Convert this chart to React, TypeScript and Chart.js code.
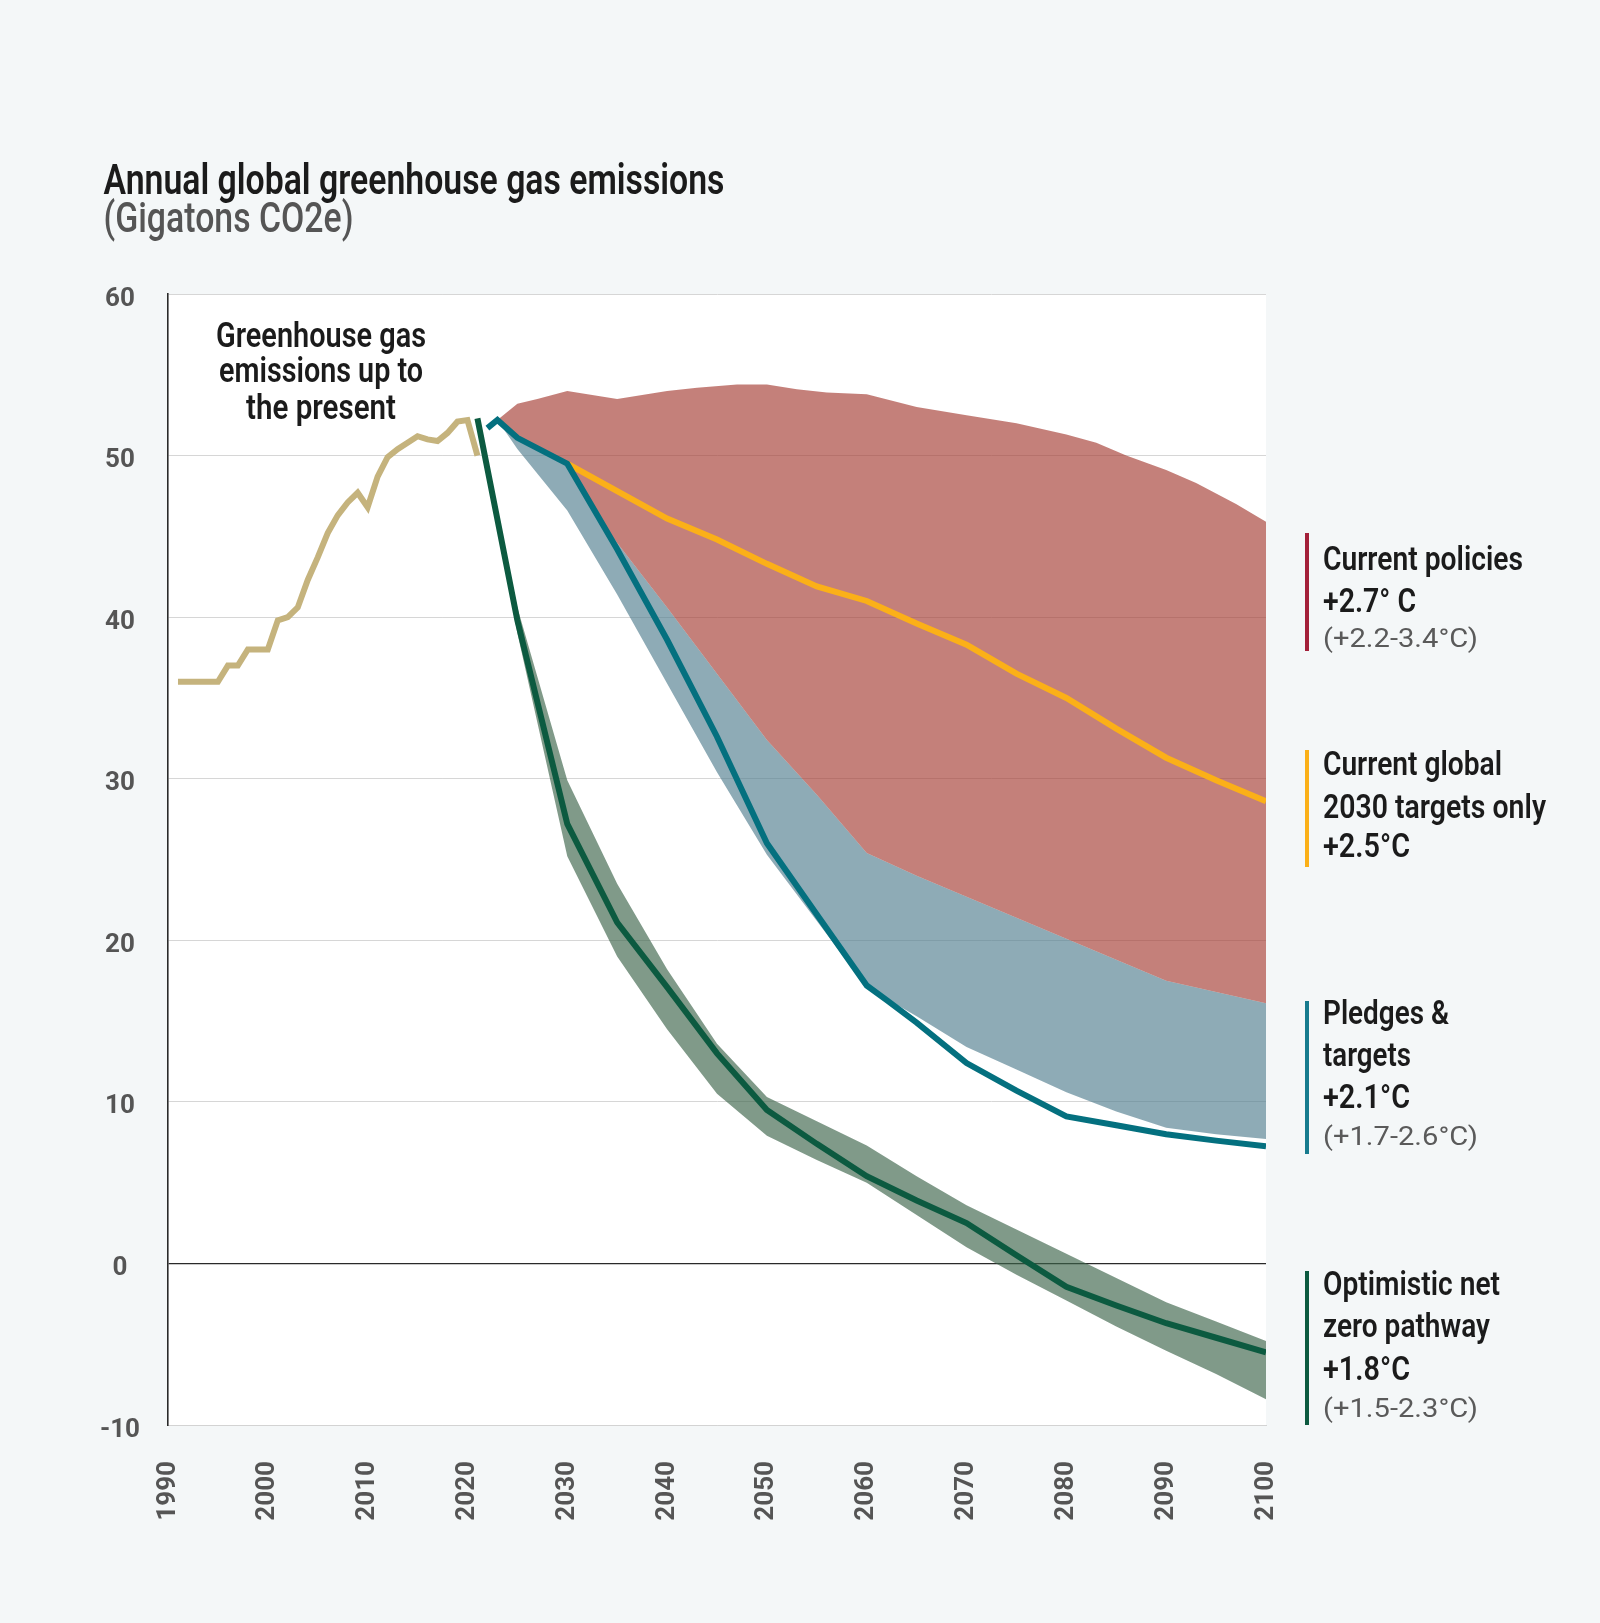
import React, { useEffect, useRef } from "react";
import { Chart, registerables } from "chart.js";

Chart.register(...registerables);

// ---------------- DATA ----------------
const historyYears = [1991, 1992, 1993, 1994, 1995, 1996, 1997, 1998, 1999, 2000, 2001, 2002, 2003, 2004, 2005, 2006, 2007, 2008, 2009, 2010, 2011, 2012, 2013, 2014, 2015, 2016, 2017, 2018, 2019, 2020, 2021];
const historyValues = [36, 36, 36, 36, 36, 37, 37, 38, 38, 38, 39.8, 40.0, 40.6, 42.3, 43.7, 45.2, 46.3, 47.1, 47.7, 46.8, 48.7, 49.9, 50.4, 50.8, 51.2, 51.0, 50.9, 51.4, 52.1, 52.2, 50.0];

const netZeroYears = [2021, 2025, 2030, 2035, 2040, 2045, 2050, 2055, 2060, 2065, 2070, 2075, 2080, 2085, 2090, 2095, 2100];
const netZeroValues = [52.3, 39.8, 27.2, 21.1, 17.1, 13.0, 9.5, 7.4, 5.4, 3.9, 2.5, 0.5, -1.45, -2.6, -3.7, -4.6, -5.5];
const netZeroHigh = [52.3, 40.6, 29.9, 23.5, 18.2, 13.6, 10.3, 8.8, 7.3, 5.4, 3.6, 2.1, 0.6, -0.9, -2.4, -3.6, -4.8];
const netZeroLow = [52.3, 39.0, 25.2, 19.0, 14.5, 10.5, 7.9, 6.4, 5.0, 3.0, 1.0, -0.7, -2.3, -3.9, -5.4, -6.85, -8.4];

const pledgesYears = [2022, 2023, 2025, 2030, 2035, 2040, 2045, 2050, 2055, 2060, 2062, 2065, 2070, 2075, 2080, 2085, 2090, 2095, 2100];
const pledgesValues = [51.7, 52.2, 51.1, 49.5, 44.2, 38.6, 32.6, 26.0, 21.6, 17.2, 16.3, 14.9, 12.4, 10.7, 9.1, 8.55, 8.0, 7.6, 7.25];

const pledgesLowYears = [2023, 2025, 2030, 2035, 2040, 2045, 2050, 2055, 2060, 2065, 2070, 2075, 2080, 2085, 2090, 2095, 2100];
const pledgesLowValues = [52.2, 50.4, 46.6, 41.4, 35.9, 30.4, 25.3, 21.2, 17.1, 15.3, 13.4, 12.0, 10.6, 9.4, 8.4, 8.0, 7.7];

const policiesLowYears = [2023, 2025, 2030, 2034, 2040, 2045, 2050, 2055, 2060, 2065, 2070, 2075, 2080, 2085, 2090, 2095, 2100];
const policiesLowValues = [52.2, 51.1, 49.5, 45.4, 40.6, 36.5, 32.4, 29.0, 25.4, 24.0, 22.7, 21.4, 20.1, 18.8, 17.5, 16.8, 16.1];

const policiesHighYears = [2023, 2025, 2027, 2030, 2035, 2040, 2043, 2047, 2050, 2053, 2056, 2060, 2065, 2070, 2075, 2080, 2083, 2086, 2090, 2093, 2097, 2100];
const policiesHighValues = [52.2, 53.2, 53.5, 54.0, 53.5, 54.0, 54.2, 54.4, 54.4, 54.1, 53.9, 53.8, 53.0, 52.5, 52.0, 51.3, 50.8, 50.0, 49.1, 48.3, 47.0, 45.9];

const targetsYears = [2030, 2035, 2040, 2045, 2050, 2055, 2060, 2065, 2070, 2075, 2080, 2085, 2090, 2095, 2100];
const targetsValues = [49.5, 47.8, 46.1, 44.8, 43.3, 41.9, 41.0, 39.6, 38.3, 36.5, 35.0, 33.1, 31.3, 29.9, 28.6];

const yMin = -10;
const yMax = 60;
const yStep = 10;
const xMin = 1990;
const xMax = 2100;
const xStep = 10;

const titleText = "Annual global greenhouse gas emissions";
const subtitleText = "(Gigatons CO2e)";
const noteLines = ["Greenhouse gas", "emissions up to", "the present"];

// ---------------- STYLE / LAYOUT ----------------
const W = 1600;
const H = 1623;
const PLOT = { left: 168, top: 294, right: 1266, bottom: 1425 };
const FONT = "Roboto, 'Noto Sans', sans-serif";

const C = {
  page: "#f4f7f8",
  red: "rgba(164,60,50,0.65)",
  blue: "rgba(81,126,143,0.65)",
  greenBand: "rgba(60,100,74,0.65)",
  teal: "#04707f",
  yellow: "#fbb018",
  green: "#0c5a40",
  tan: "#c5b37d",
};

const legendGroups = [
  {
    color: "#a3203a", top: 533, bottom: 651,
    lines: [
      { t: "Current policies", y: 570, w: 200, sub: false },
      { t: "+2.7° C", y: 612, w: 93, sub: false },
      { t: "(+2.2-3.4°C)", y: 647, w: 155, sub: true },
    ],
  },
  {
    color: "#fbb018", top: 750, bottom: 867,
    lines: [
      { t: "Current global", y: 775, w: 179, sub: false },
      { t: "2030 targets only", y: 818, w: 223, sub: false },
      { t: "+2.5°C", y: 857, w: 87, sub: false },
    ],
  },
  {
    color: "#177b8e", top: 1001, bottom: 1154,
    lines: [
      { t: "Pledges &", y: 1024, w: 126, sub: false },
      { t: "targets", y: 1066, w: 88, sub: false },
      { t: "+2.1°C", y: 1108, w: 87, sub: false },
      { t: "(+1.7-2.6°C)", y: 1145, w: 155, sub: true },
    ],
  },
  {
    color: "#0c5a40", top: 1271, bottom: 1425,
    lines: [
      { t: "Optimistic net", y: 1295, w: 177, sub: false },
      { t: "zero pathway", y: 1337, w: 167, sub: false },
      { t: "+1.8°C", y: 1380, w: 87, sub: false },
      { t: "(+1.5-2.3°C)", y: 1417, w: 155, sub: true },
    ],
  },
];

const pts = (xs: number[], ys: number[]) => xs.map((x, i) => ({ x, y: ys[i] }));

const plotBg = {
  id: "plotBg",
  beforeDraw(chart: any) {
    const { ctx, chartArea } = chart;
    ctx.save();
    ctx.fillStyle = "#ffffff";
    ctx.fillRect(chartArea.left, chartArea.top, chartArea.right - chartArea.left, chartArea.bottom - chartArea.top);
    ctx.restore();
  },
};

export default function App() {
  const ref = useRef<HTMLCanvasElement | null>(null);

  useEffect(() => {
    if (!ref.current) return;
    const line = (data: any, color: string, width = 6) => ({
      data,
      borderColor: color,
      borderWidth: width,
      pointRadius: 0,
      fill: false,
      tension: 0,
    });
    const chart = new Chart(ref.current, {
      type: "line",
      data: {
        datasets: [
          { label: "Pledges & targets", ...line(pts(pledgesYears, pledgesValues), C.teal) },
          { label: "Current 2030 targets", ...line(pts(targetsYears, targetsValues), C.yellow) },
          { label: "Optimistic net zero", ...line(pts(netZeroYears, netZeroValues), C.green) },
          { label: "Historical", ...line(pts(historyYears, historyValues), C.tan) },
          { label: "Net zero high", ...line(pts(netZeroYears, netZeroHigh), "transparent", 0), fill: { target: 5 }, backgroundColor: C.greenBand },
          { label: "Net zero low", ...line(pts(netZeroYears, netZeroLow), "transparent", 0) },
          { label: "Policies high", ...line(pts(policiesHighYears, policiesHighValues), "transparent", 0), fill: { target: 7 }, backgroundColor: C.red },
          { label: "Policies low", ...line(pts(policiesLowYears, policiesLowValues), "transparent", 0), fill: { target: 8 }, backgroundColor: C.blue },
          { label: "Pledges low", ...line(pts(pledgesLowYears, pledgesLowValues), "transparent", 0) },
        ] as any,
      },
      options: {
        animation: false,
        responsive: false,
        events: [],
        layout: { padding: { left: 0, top: PLOT.top, right: W - PLOT.right, bottom: 0 } },
        plugins: { legend: { display: false }, tooltip: { enabled: false } },
        scales: {
          x: {
            type: "linear",
            min: xMin,
            max: xMax,
            afterFit(scale: any) { scale.height = H - PLOT.bottom; },
            grid: { display: false },
            border: { display: true, color: "#d3d3d3", width: 1 },
            ticks: {
              stepSize: xStep,
              autoSkip: false,
              minRotation: 90,
              maxRotation: 90,
              padding: 28,
              color: "#555555",
              font: { family: FONT, size: 26, weight: "bold" },
              callback: (v: any) => String(v),
            },
          },
          y: {
            type: "linear",
            min: yMin,
            max: yMax,
            afterFit(scale: any) { scale.width = PLOT.left; },
            grid: {
              drawTicks: false,
              color: (c: any) => (c.tick && c.tick.value === 0 ? "#2a2a2a" : "#d6d6d6"),
              lineWidth: (c: any) => (c.tick && c.tick.value === 0 ? 1.3 : 1),
            },
            border: { display: true, color: "#2a2a2a", width: 1.6 },
            ticks: {
              stepSize: yStep,
              crossAlign: "center",
              padding: 28,
              labelOffset: 5,
              color: "#555555",
              font: { family: FONT, size: 26, weight: "bold" },
              callback: (v: any) => String(v),
            },
          },
        },
      } as any,
      plugins: [plotBg],
    });
    return () => chart.destroy();
  }, []);

  return (
    <div style={{ position: "fixed", left: 0, top: 0, width: W, height: H, background: C.page, overflow: "hidden" }}>
      <canvas ref={ref} width={W} height={H} style={{ position: "absolute", left: 0, top: 0, width: W, height: H }} />
      <svg width={W} height={H} style={{ position: "absolute", left: 0, top: 0, pointerEvents: "none" }}>
        <g style={{ fontFamily: FONT }}>
          <text x={103.5} y={194} fontSize={43} fontWeight={600} fill="#1b1b1b" textLength={621} lengthAdjust="spacingAndGlyphs">{titleText}</text>
          <text x={103.5} y={232} fontSize={43} fontWeight={500} fill="#555555" textLength={250} lengthAdjust="spacingAndGlyphs">{subtitleText}</text>
          {noteLines.map((t, i) => (
            <text key={t} x={321} y={[347, 382, 419][i]} fontSize={35} fontWeight={600} fill="#1b1b1b" textAnchor="middle" textLength={[210, 204, 150][i]} lengthAdjust="spacingAndGlyphs">{t}</text>
          ))}
          {legendGroups.map((g, gi) => (
            <g key={gi}>
              <rect x={1305} y={g.top} width={4} height={g.bottom - g.top} fill={g.color} />
              {g.lines.map((l, li) => (
                <text key={li} x={1323} y={l.y} fontSize={l.sub ? 25 : 33} fontWeight={l.sub ? 400 : 600} fill={l.sub ? "#5a5a5a" : "#1b1b1b"} textLength={l.w} lengthAdjust="spacingAndGlyphs">{l.t}</text>
              ))}
            </g>
          ))}
        </g>
      </svg>
    </div>
  );
}
